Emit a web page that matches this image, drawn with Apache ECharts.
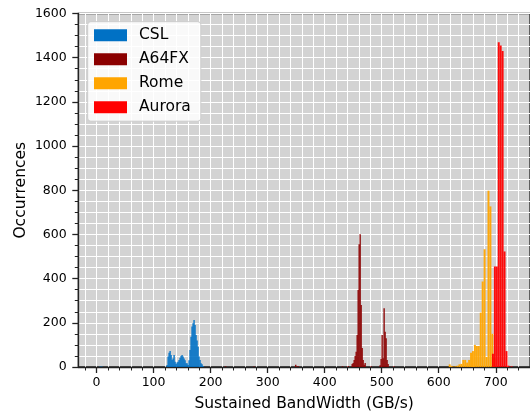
<!DOCTYPE html>
<html><head><meta charset="utf-8">
<script src="https://cdn.jsdelivr.net/npm/echarts@6/dist/echarts.min.js"></script>
<style>html,body{margin:0;padding:0;background:#fff}#c{width:530px;height:417px}</style>
</head><body><div id="c"></div>
<script>
// ---- data (histogram bins: left edge, count) ----
const seriesNames = ['CSL', 'A64FX', 'Rome', 'Aurora'];

const cslWidth = 1.75;
const cslEdges = [5, 8, 122.5, 124.25, 126, 127.75, 129.5, 131.25, 133, 134.75, 136.5, 138.25, 140, 141.75, 143.5, 145.25, 147, 148.75, 150.5, 152.25, 154, 155.75, 157.5, 159.25, 161, 162.75, 164.5, 166.25, 168, 169.75, 171.5, 173.25, 175, 176.75, 178.5, 180.25, 182, 183.75, 185.5];
const cslCounts = [2, 2, 9, 47, 65, 72, 54, 32, 39, 54, 24, 14, 20, 24, 32, 42, 50, 54, 47, 39, 30, 17, 17, 9, 30, 77, 137, 183, 198, 213, 190, 145, 120, 92, 47, 32, 17, 12, 5];

const a64Width = 1.75;
const a64Edges = [225, 275, 348, 352, 430, 440, 447, 448.75, 450.5, 452.25, 454, 455.75, 457.5, 459.25, 461, 462.75, 464.5, 466.25, 468, 469.75, 480, 496, 497.75, 499.5, 501.25, 503, 504.75, 506.5, 508.25, 510, 520];
const a64Counts = [3, 2, 10, 4, 3, 5, 14, 18, 32, 50, 69, 145, 348, 556, 601, 281, 86, 32, 10, 18, 3, 8, 36, 145, 40, 266, 160, 130, 32, 14, 3];

const romeWidth = 3.4;
const romeEdges = [617.5, 620.9, 624.3, 627.7, 631.1, 634.5, 637.9, 641.3, 644.7, 648.1, 651.5, 654.9, 658.3, 661.7, 665.1, 668.5, 671.9, 675.3, 678.7, 682.1, 685.5, 688.9, 692.3, 695.7];
const romeCounts = [12, 5, 2, 3, 6, 12, 14, 32, 32, 20, 32, 65, 72, 100, 95, 95, 246, 387, 533, 45, 798, 727, 150, 40];

const auroraWidth = 3.4;
const auroraEdges = [693.3, 696.7, 700.1, 703.5, 706.9, 710.3, 713.7, 717.1, 720.5, 726];
const auroraCounts = [60, 455, 455, 1470, 1455, 1430, 523, 72, 6, 3];

const xMajorTicks = [0, 100, 200, 300, 400, 500, 600, 700];
const xMinorTicks = [-20, 0, 20, 40, 60, 80, 100, 120, 140, 160, 180, 200, 220, 240, 260, 280, 300, 320, 340, 360, 380, 400, 420, 440, 460, 480, 500, 520, 540, 560, 580, 600, 620, 640, 660, 680, 700, 720, 740];

const colors = ['#0071C5', '#8B0000', '#FFA500', '#FF0000'];

function bins(edges, counts, w) {
  return edges.map((e, i) => [e, e + w, counts[i]]);
}
const allBins = [
  bins(cslEdges, cslCounts, cslWidth),
  bins(a64Edges, a64Counts, a64Width),
  bins(romeEdges, romeCounts, romeWidth),
  bins(auroraEdges, auroraCounts, auroraWidth)
];

function renderItem(params, api) {
  const p0 = api.coord([api.value(0), api.value(2)]);
  const p1 = api.coord([api.value(1), 0]);
  const cs = params.coordSys;
  const w = Math.max(p1[0] - p0[0], 1.4);
  const shape = echarts.graphic.clipRectByRect(
    { x: p0[0], y: p0[1], width: w, height: p1[1] - p0[1] },
    { x: cs.x, y: cs.y, width: cs.width, height: cs.height });
  if (!shape) return;
  return { type: 'rect', shape: shape, style: api.style() };
}

const FONT = 'DejaVu Sans';
const chart = echarts.init(document.getElementById('c'), null, { renderer: 'canvas' });
chart.setOption({
  animation: false,
  textStyle: { fontFamily: FONT },
  grid: {
    left: 78.3, right: 0, top: 13.5, bottom: 50,
    show: true, backgroundColor: '#d3d3d3', borderColor: '#222', borderWidth: 1.3
  },
  legend: {
    orient: 'vertical', left: 87.7, top: 21.7,
    data: seriesNames,
    icon: 'rect', itemWidth: 33, itemHeight: 12, itemGap: 8,
    padding: [5.5, 10, 6, 6.3],
    backgroundColor: 'rgba(255,255,255,0.85)', borderColor: '#cccccc', borderWidth: 1, borderRadius: 3,
    itemStyle: { opacity: 1 },
    textStyle: { fontFamily: FONT, fontSize: 15.5, color: '#000', padding: [0, 0, 0, 7] }
  },
  xAxis: [{
    type: 'value', min: -32, max: 760,
    name: 'Sustained BandWidth (GB/s)', nameLocation: 'middle', nameGap: 29,
    nameTextStyle: { fontFamily: FONT, fontSize: 15.5, color: '#000' },
    axisLine: { show: true, onZero: false, lineStyle: { color: '#222', width: 1.3 } },
    axisTick: { show: true, customValues: xMajorTicks, length: 6, lineStyle: { color: '#222', width: 1.3 } },
    axisLabel: { customValues: xMajorTicks, margin: 9.5, fontFamily: FONT, fontSize: 12.5, color: '#000' },
    splitLine: { show: true, lineStyle: { color: '#ffffff', width: 1 } }
  }, {
    type: 'value', min: -32, max: 760, position: 'bottom',
    axisLine: { show: false, onZero: false },
    axisTick: { show: true, customValues: xMinorTicks, length: 3.5, lineStyle: { color: '#222', width: 1 } },
    axisLabel: { show: false },
    splitLine: { show: true, lineStyle: { color: '#ffffff', width: 1 } }
  }],
  yAxis: {
    type: 'value', min: 0, max: 1600, interval: 200,
    name: 'Occurrences', nameLocation: 'middle', nameGap: 49, nameMoveOverlap: false,
    nameTextStyle: { fontFamily: FONT, fontSize: 15.5, color: '#000' },
    axisLine: { show: true, onZero: false, lineStyle: { color: '#222', width: 1.3 } },
    axisTick: { show: true, length: 6, lineStyle: { color: '#222', width: 1.3 } },
    minorTick: { show: true, splitNumber: 4, length: 3.5, lineStyle: { color: '#222', width: 1 } },
    axisLabel: { margin: 11.6, fontFamily: FONT, fontSize: 12.5, color: '#000', formatter: v => String(v) },
    splitLine: { show: true, lineStyle: { color: '#ffffff', width: 1 } },
    minorSplitLine: { show: true, lineStyle: { color: '#ffffff', width: 1 } }
  },
  series: seriesNames.map((n, i) => ({
    type: 'custom', name: n, renderItem: renderItem,
    xAxisIndex: 0, yAxisIndex: 0,
    encode: { x: [0, 1], y: 2 },
    itemStyle: { color: colors[i], opacity: 0.95 },
    data: allBins[i]
  }))
});
</script>
</body></html>
